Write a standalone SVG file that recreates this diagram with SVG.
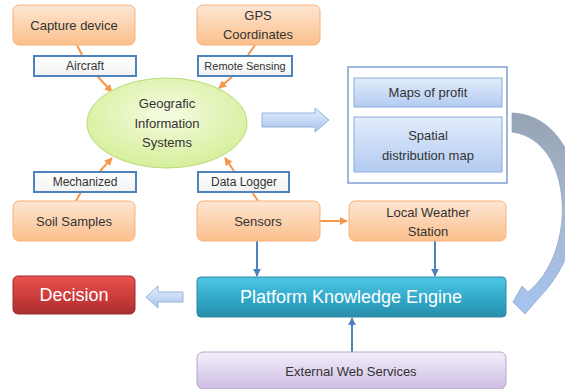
<svg xmlns="http://www.w3.org/2000/svg" width="565" height="389" viewBox="0 0 565 389">
<defs>
<linearGradient id="gOr" x1="0" y1="0" x2="0" y2="1"><stop offset="0" stop-color="#fde6d3"/><stop offset="1" stop-color="#fbbf8c"/></linearGradient>
<linearGradient id="gLbl" x1="0" y1="0" x2="0" y2="1"><stop offset="0" stop-color="#ffffff"/><stop offset="1" stop-color="#f2f2f2"/></linearGradient>
<linearGradient id="gTeal" x1="0" y1="0" x2="0" y2="1"><stop offset="0" stop-color="#4fc6e6"/><stop offset="0.6" stop-color="#2fa6c6"/><stop offset="1" stop-color="#2a8ea8"/></linearGradient>
<linearGradient id="gRed" x1="0" y1="0" x2="0" y2="1"><stop offset="0" stop-color="#e85250"/><stop offset="0.6" stop-color="#c83a38"/><stop offset="1" stop-color="#a93030"/></linearGradient>
<linearGradient id="gPur" x1="0" y1="0" x2="0" y2="1"><stop offset="0" stop-color="#f3effa"/><stop offset="1" stop-color="#cdbde3"/></linearGradient>
<linearGradient id="gBlue" x1="0" y1="0" x2="0" y2="1"><stop offset="0" stop-color="#e2ecfb"/><stop offset="1" stop-color="#b3cbf1"/></linearGradient>
<linearGradient id="gArr" x1="0" y1="0" x2="0" y2="1"><stop offset="0" stop-color="#e4eefc"/><stop offset="1" stop-color="#a9c4ee"/></linearGradient>
<linearGradient id="gCurve" x1="0" y1="0" x2="0" y2="1"><stop offset="0" stop-color="#96a3b4"/><stop offset="0.45" stop-color="#a7b6cc"/><stop offset="1" stop-color="#a6c4f2"/></linearGradient>
<radialGradient id="gEll" cx="0.5" cy="0.4" r="0.6"><stop offset="0" stop-color="#f6fce2"/><stop offset="1" stop-color="#d5ef9a"/></radialGradient>
<marker id="mOr" viewBox="0 0 10 10" refX="9" refY="5" markerWidth="4" markerHeight="4" orient="auto"><path d="M0,0 L10,5 L0,10 Z" fill="#f79646"/></marker>
<marker id="mBl" viewBox="0 0 10 10" refX="9" refY="5" markerWidth="4" markerHeight="4" orient="auto"><path d="M0,0 L10,5 L0,10 Z" fill="#4f81bd"/></marker>
</defs>
<style>
text{font-family:"Liberation Sans",Arial,sans-serif;fill:#333;text-anchor:middle;dominant-baseline:central}
.or{fill:url(#gOr);stroke:#f9b27a;stroke-width:1}
.lbl{fill:url(#gLbl);stroke:#4f81bd;stroke-width:2}
.pl{fill:url(#gBlue);stroke:#8eaadb;stroke-width:1}
.oc{stroke:#f79646;stroke-width:2;fill:none}
.bc{stroke:#4f81bd;stroke-width:2;fill:none}
.t13{font-size:13px}
.t12{font-size:12px}
.t11{font-size:11px}
.w{fill:#fff;font-size:18px}
</style>

<g id="connectors">
<line class="oc" x1="77" y1="45" x2="82" y2="55"/>
<line class="oc" x1="98" y1="77" x2="112" y2="92" marker-end="url(#mOr)"/>
<line class="oc" x1="255" y1="45" x2="248" y2="55"/>
<line class="oc" x1="232" y1="77" x2="219" y2="88" marker-end="url(#mOr)"/>
<line class="oc" x1="76" y1="201" x2="81" y2="192"/>
<line class="oc" x1="100" y1="171" x2="112" y2="158" marker-end="url(#mOr)"/>
<line class="oc" x1="258" y1="201" x2="252" y2="192"/>
<line class="oc" x1="234" y1="171" x2="225" y2="158" marker-end="url(#mOr)"/>
<line class="oc" x1="320" y1="221" x2="347" y2="221" marker-end="url(#mOr)"/>
<line class="bc" x1="257" y1="241" x2="257" y2="276" marker-end="url(#mBl)"/>
<line class="bc" x1="435" y1="241" x2="435" y2="276" marker-end="url(#mBl)"/>
<line class="bc" x1="352" y1="352" x2="352" y2="318" marker-end="url(#mBl)"/>
<path d="M262,113 L315,113 L315,108 L329,120 L315,132 L315,127 L262,127 Z" fill="url(#gArr)" stroke="#95b3d7" stroke-width="1"/>
<path d="M183,292 L158,292 L158,286 L146,297 L158,308 L158,302 L183,302 Z" fill="url(#gArr)" stroke="#95b3d7" stroke-width="1"/>
<path d="M512,113 C582,115 605,232 537,300 L525,314 L513,302 L522,286 L528,292 C578,252 574,140 512,132 Z" fill="url(#gCurve)" stroke="#8fa8cc" stroke-width="0.8"/>
</g>

<g id="capture"><rect class="or" x="13" y="5" width="122" height="40" rx="6"/><text class="t13" x="74" y="25">Capture device</text></g>
<g id="gps"><rect class="or" x="197" y="5" width="123" height="40" rx="6"/><text class="t13" x="258" y="15">GPS</text><text class="t13" x="258" y="34">Coordinates</text></g>
<g id="aircraft"><rect class="lbl" x="34" y="56" width="102" height="20"/><text class="t12" x="85" y="66">Aircraft</text></g>
<g id="remote"><rect class="lbl" x="198" y="56" width="94" height="20"/><text class="t11" x="245" y="66">Remote Sensing</text></g>
<g id="gis"><ellipse cx="167" cy="123" rx="80" ry="45" fill="url(#gEll)" stroke="#bcd97a" stroke-width="1"/><text class="t13" x="167" y="103">Geografic</text><text class="t13" x="167" y="123">Information</text><text class="t13" x="167" y="142">Systems</text></g>
<g id="mechanized"><rect class="lbl" x="34" y="172" width="102" height="20"/><text class="t12" x="85" y="182">Mechanized</text></g>
<g id="datalogger"><rect class="lbl" x="198" y="172" width="91" height="20"/><text class="t12" x="244" y="182">Data Logger</text></g>
<g id="soil"><rect class="or" x="13" y="201" width="122" height="40" rx="6"/><text class="t13" x="74" y="221">Soil Samples</text></g>
<g id="sensors"><rect class="or" x="197" y="201" width="123" height="40" rx="6"/><text class="t13" x="258" y="221">Sensors</text></g>
<g id="weather"><rect class="or" x="349" y="201" width="157" height="40" rx="6"/><text class="t13" x="428" y="212">Local Weather</text><text class="t13" x="428" y="231">Station</text></g>
<g id="panel"><rect x="348" y="67" width="159" height="116" fill="#fff" stroke="#7f9fcf" stroke-width="1.5"/>
<rect class="pl" x="354" y="78" width="148" height="29"/><text class="t13" x="428" y="92">Maps of profit</text>
<rect class="pl" x="354" y="117" width="148" height="55"/><text class="t13" x="428" y="135">Spatial</text><text class="t13" x="428" y="155">distribution map</text></g>
<g id="platform"><rect x="197" y="277" width="309" height="40" rx="4" fill="url(#gTeal)" stroke="#2d8aa3" stroke-width="1"/><text class="w" x="351" y="297">Platform Knowledge Engine</text></g>
<g id="decision"><rect x="13" y="276" width="122" height="38" rx="5" fill="url(#gRed)" stroke="#9a2f2f" stroke-width="1"/><text class="w" x="74" y="295">Decision</text></g>
<g id="external"><rect x="197" y="352" width="309" height="37" rx="6" fill="url(#gPur)" stroke="#b6a4cd" stroke-width="1"/><text class="t13" x="351" y="371">External Web Services</text></g>
</svg>
